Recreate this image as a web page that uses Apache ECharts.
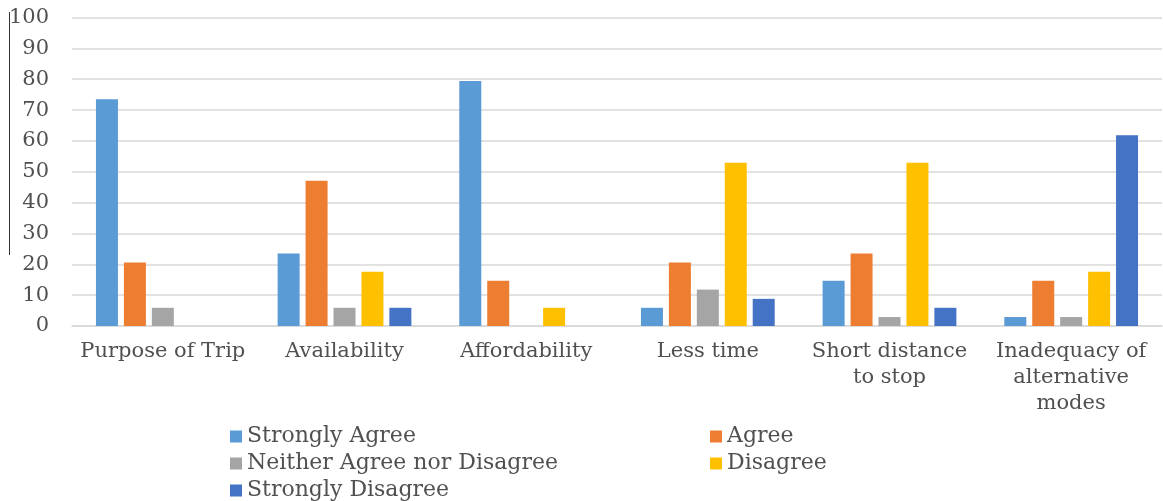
<!DOCTYPE html>
<html>
<head>
<meta charset="utf-8">
<script src="https://cdn.jsdelivr.net/npm/echarts@6/dist/echarts.min.js"></script>
<style>html,body{margin:0;padding:0;background:#fff;}#c{width:1163px;height:501px;}</style>
</head>
<body>
<div id="c"></div>
<script>
const categories = ['Purpose of Trip', 'Availability', 'Affordability', 'Less time', 'Short distance\nto stop', 'Inadequacy of\nalternative\nmodes'];
const seriesNames = ['Strongly Agree', 'Agree', 'Neither Agree nor Disagree', 'Disagree', 'Strongly Disagree'];
const stronglyAgree = [73.5, 23.5, 79.4, 5.9, 14.7, 2.9];
const agree = [20.6, 47.1, 14.7, 20.6, 23.5, 14.7];
const neither = [5.9, 5.9, 0, 11.8, 2.9, 2.9];
const disagree = [0, 17.6, 5.9, 52.9, 52.9, 17.6];
const stronglyDisagree = [0, 5.9, 0, 8.8, 5.9, 61.8];
const colors = ['#5B9BD5', '#ED7D31', '#A5A5A5', '#FFC000', '#4472C4'];
const yMin = 0, yMax = 100, yStep = 10;

const values = [stronglyAgree, agree, neither, disagree, stronglyDisagree];
const font = 'DejaVu Serif';
const textColor = '#505050';

const chart = echarts.init(document.getElementById('c'));
chart.setOption({
  animation: false,
  color: colors,
  grid: { left: 72, right: 1, top: 17.5, bottom: 175, containLabel: false },
  xAxis: {
    type: 'category',
    data: categories,
    axisLine: { lineStyle: { color: '#d9d9d9', width: 1.5 } },
    axisTick: { show: false },
    axisLabel: { color: textColor, fontFamily: font, fontSize: 21, lineHeight: 26, margin: 13, interval: 0 }
  },
  yAxis: {
    type: 'value',
    min: yMin, max: yMax, interval: yStep,
    axisLine: { show: false },
    axisTick: { show: false },
    splitLine: { lineStyle: { color: '#d9d9d9', width: 1.5 } },
    axisLabel: { color: textColor, fontFamily: font, fontSize: 21, margin: 23 }
  },
  legend: {
    left: 225, top: 418, width: 960,
    itemWidth: 12, itemHeight: 12, itemGap: 0,
    icon: 'rect',
    data: seriesNames,
    textStyle: { color: textColor, fontFamily: font, fontSize: 22, width: 463, lineHeight: 27, overflow: 'none' }
  },
  graphic: [{
    type: 'line',
    shape: { x1: 9.5, y1: 12, x2: 9.5, y2: 255 },
    style: { stroke: '#333', lineWidth: 1 }
  }],
  series: seriesNames.map((n, i) => ({
    name: n,
    type: 'bar',
    data: values[i],
    barWidth: 22,
    barGap: '27%',
    itemStyle: { color: colors[i] }
  }))
});
</script>
</body>
</html>
